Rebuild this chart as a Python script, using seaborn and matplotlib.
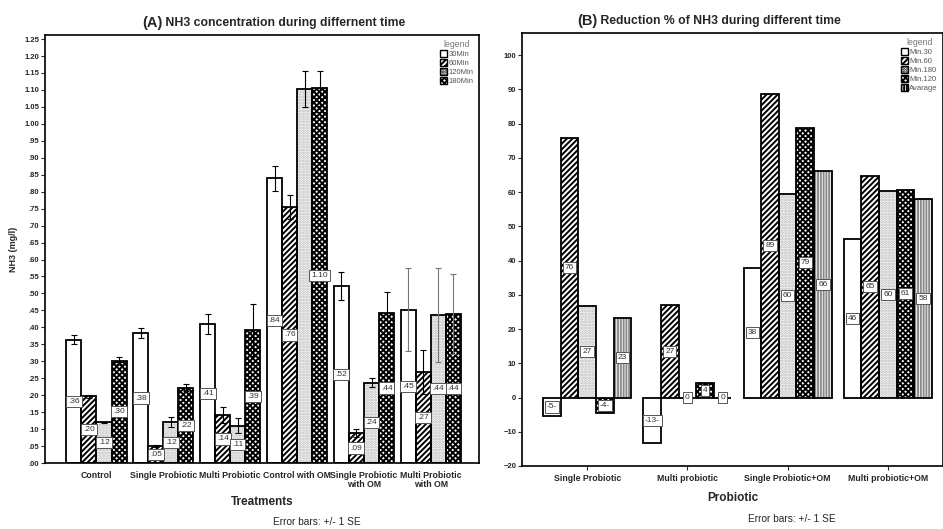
import pandas as pd
import matplotlib
matplotlib.use("Agg")
import matplotlib.pyplot as plt
import seaborn as sns
from matplotlib.patches import Patch, Rectangle

# ---- data: panel A (NH3 concentration, mg/l) ----
treatments = ["Control", "Single Probiotic", "Multi Probiotic", "Control with OM",
              "Single Probiotic\nwith OM", "Multi Probiotic\nwith OM"]
times_a = ["30Min", "60Min", "120Min", "180Min"]
nh3_30 = [0.363, 0.383, 0.41, 0.84, 0.522, 0.452]
nh3_60 = [0.197, 0.05, 0.142, 0.755, 0.088, 0.268]
nh3_120 = [0.12, 0.12, 0.11, 1.103, 0.237, 0.437]
nh3_180 = [0.302, 0.222, 0.392, 1.105, 0.442, 0.438]
se_30 = [0.013, 0.015, 0.03, 0.037, 0.042, 0.122]
se_60 = [0.004, 0.003, 0.023, 0.035, 0.012, 0.066]
se_120 = [0.002, 0.015, 0.022, 0.052, 0.014, 0.138]
se_180 = [0.01, 0.01, 0.076, 0.052, 0.063, 0.118]
# value boxes shown in the bars ("" = hidden behind neighbour)
labels_a = [[".36", ".20", ".12", ".30"],
            [".38", ".05", ".12", ".22"],
            [".41", ".14", ".11", ".39"],
            [".84", ".76", "", "1.10"],
            [".52", ".09", ".24", ".44"],
            [".45", ".27", ".44", ".44"]]

# ---- data: panel B (reduction %) ----
probiotics = ["Single Probiotic", "Multi probiotic", "Single Probiotic+OM", "Multi probiotic+OM"]
times_b = ["Min.30", "Min.60", "Min.180", "Min.120", "Avarage"]
red_30 = [-5.5, -13.2, 37.8, 46.2]
red_60 = [75.8, 27.0, 88.8, 64.8]
red_180 = [26.7, 0.0, 59.5, 60.2]
red_120 = [-4.5, 4.3, 78.8, 60.7]
red_avg = [23.2, 0.0, 66.2, 57.9]
labels_b = [["-5-", "76", "27", "-4-", "23"],
            ["-13-", "27", "0", "4", "0"],
            ["38", "89", "60", "79", "66"],
            ["46", "65", "60", "61", "58"]]

df_a = pd.DataFrame({
    "Treatment": treatments * 4,
    "Time": [t for t in times_a for _ in treatments],
    "NH3": nh3_30 + nh3_60 + nh3_120 + nh3_180,
    "SE": se_30 + se_60 + se_120 + se_180,
})
df_b = pd.DataFrame({
    "Probiotic": probiotics * 5,
    "Time": [t for t in times_b for _ in probiotics],
    "Reduction": red_30 + red_60 + red_180 + red_120 + red_avg,
})

sns.set_style("white")
plt.rcParams["font.family"] = ["Liberation Sans", "DejaVu Sans"]
plt.rcParams["hatch.linewidth"] = 1.4

# hatch style per series: (hatch, hatch colour)
styles_a = {"30Min": ("", "black"), "60Min": ("//////", "black"),
            "120Min": ("......", "#b8b8b8"), "180Min": ("xxxxxx", "black")}
styles_b = {"Min.30": ("", "black"), "Min.60": ("//////", "black"),
            "Min.180": ("......", "#b8b8b8"), "Min.120": ("xxxxxx", "black"),
            "Avarage": ("||||||", "#8a8a8a")}

fig = plt.figure(figsize=(9.43, 5.29), dpi=100)
ax_a = fig.add_axes([45 / 943, 1 - 463 / 529, (479 - 45) / 943, (463 - 35) / 529])
ax_b = fig.add_axes([522 / 943, 1 - 466 / 529, (943 - 522) / 943, (466 - 33) / 529])


def style_bars(ax, styles, order):
    for cont, name in zip(ax.containers, order):
        hatch, hcol = styles[name]
        for bar in cont:
            bar.set_facecolor("white")
            bar.set_hatch(hatch)
            bar.set_edgecolor(hcol)
            bar.set_linewidth(0)
            ax.add_patch(Rectangle(bar.get_xy(), bar.get_width(), bar.get_height(),
                                   fill=False, edgecolor="black", linewidth=1.3, zorder=3))


def box_label(ax, x, y, s):
    if not s:
        return
    ax.text(x, y, s, ha="center", va="center", fontsize=6, color="#333333", zorder=5,
            bbox=dict(boxstyle="square,pad=0.25", fc="white", ec="#555555", lw=0.7))


def make_legend(ax, styles, order):
    handles = [Patch(facecolor="white", edgecolor="black", hatch=styles[t][0], label=t)
               for t in order]
    leg = ax.legend(handles=handles, title="legend", loc="upper right", frameon=False,
                    fontsize=5.5, title_fontsize=6.3, handlelength=0.9, handleheight=0.9,
                    handletextpad=0.2, labelspacing=0.15, borderaxespad=0.3)
    leg.get_title().set_color("#777777")
    for t in leg.get_texts():
        t.set_color("#555555")


# ---- panel A ----
sns.barplot(data=df_a, x="Treatment", y="NH3", hue="Time", hue_order=times_a,
            palette=["white"] * 4, errorbar=None, width=0.9, ax=ax_a, legend=False)
style_bars(ax_a, styles_a, times_a)
for j, (cont, name) in enumerate(zip(ax_a.containers, times_a)):
    sub = df_a[df_a["Time"] == name]
    for i, (bar, v, se) in enumerate(zip(cont, sub["NH3"], sub["SE"])):
        cx = bar.get_x() + bar.get_width() / 2
        col = "#777777" if se > 0.1 else "black"
        ax_a.errorbar(cx, v, yerr=se, color=col, lw=0.8, capsize=2.5, capthick=0.8, zorder=4)
        box_label(ax_a, cx, v / 2, labels_a[i][j])

ax_a.set_xlim(-0.77, 5.72)
ax_a.set_ylim(0, 1.262)
yt = [i * 0.05 for i in range(26)]
ax_a.set_yticks(yt)
ax_a.set_yticklabels([f"{v:.2f}".lstrip("0") if v < 1 else f"{v:.2f}" for v in yt])
ax_a.set_xlabel("Treatments", fontsize=8.5, fontweight="bold", labelpad=5)
ax_a.set_ylabel("NH3 (mg/l)", fontsize=6.5, fontweight="bold", labelpad=5)
ax_a.tick_params(axis="y", labelsize=5.5, length=3, width=0.8, pad=1, left=True)
ax_a.tick_params(axis="x", labelsize=6.3, length=0, pad=6)
for lab in ax_a.get_xticklabels() + ax_a.get_yticklabels():
    lab.set_fontweight("bold")
    lab.set_linespacing(0.95)
make_legend(ax_a, styles_a, times_a)

# ---- panel B ----
sns.barplot(data=df_b, x="Probiotic", y="Reduction", hue="Time", hue_order=times_b,
            palette=["white"] * 5, errorbar=None, width=0.88, ax=ax_b, legend=False)
style_bars(ax_b, styles_b, times_b)
for j, (cont, name) in enumerate(zip(ax_b.containers, times_b)):
    sub = df_b[df_b["Time"] == name]
    for i, (bar, v) in enumerate(zip(cont, sub["Reduction"])):
        cx = bar.get_x() + bar.get_width() / 2
        box_label(ax_b, cx, v / 2, labels_b[i][j])

ax_b.set_xlim(-0.65, 3.55)
ax_b.set_ylim(-20, 106.5)
ax_b.set_yticks(range(-20, 101, 10))
ax_b.set_xlabel("Probiotic", fontsize=8.5, fontweight="bold", labelpad=6)
ax_b.set_ylabel("")
ax_b.tick_params(axis="y", labelsize=5.5, length=3, width=0.8, pad=1, left=True)
ax_b.tick_params(axis="x", labelsize=6.3, length=3, width=0.8, pad=3, bottom=True)
for lab in ax_b.get_xticklabels() + ax_b.get_yticklabels():
    lab.set_fontweight("bold")
make_legend(ax_b, styles_b, times_b)

for ax in (ax_a, ax_b):
    for sp in ax.spines.values():
        sp.set_visible(True)
        sp.set_color("black")
        sp.set_linewidth(1.2)

# titles: large "(A)"/"(B)" followed by normal-size text
t1 = fig.text(142 / 943, 1 - 27 / 529, "(A)", fontsize=10.5, fontweight="bold")
ax_a.annotate(" NH3 concentration during differnent time", xy=(1, 0.08), xycoords=t1,
              fontsize=8.8, fontweight="bold", va="bottom", ha="left")
t2 = fig.text(577 / 943, 1 - 25 / 529, "(B)", fontsize=10.5, fontweight="bold")
ax_b.annotate(" Reduction % of NH3 during different time", xy=(1, 0.08), xycoords=t2,
              fontsize=8.8, fontweight="bold", va="bottom", ha="left")

fig.text(317 / 943, 1 - 525 / 529, "Error bars: +/- 1 SE", fontsize=7.3, ha="center")
fig.text(792 / 943, 1 - 522 / 529, "Error bars: +/- 1 SE", fontsize=7.3, ha="center")

fig.savefig("out.png", dpi=100, facecolor="white")
